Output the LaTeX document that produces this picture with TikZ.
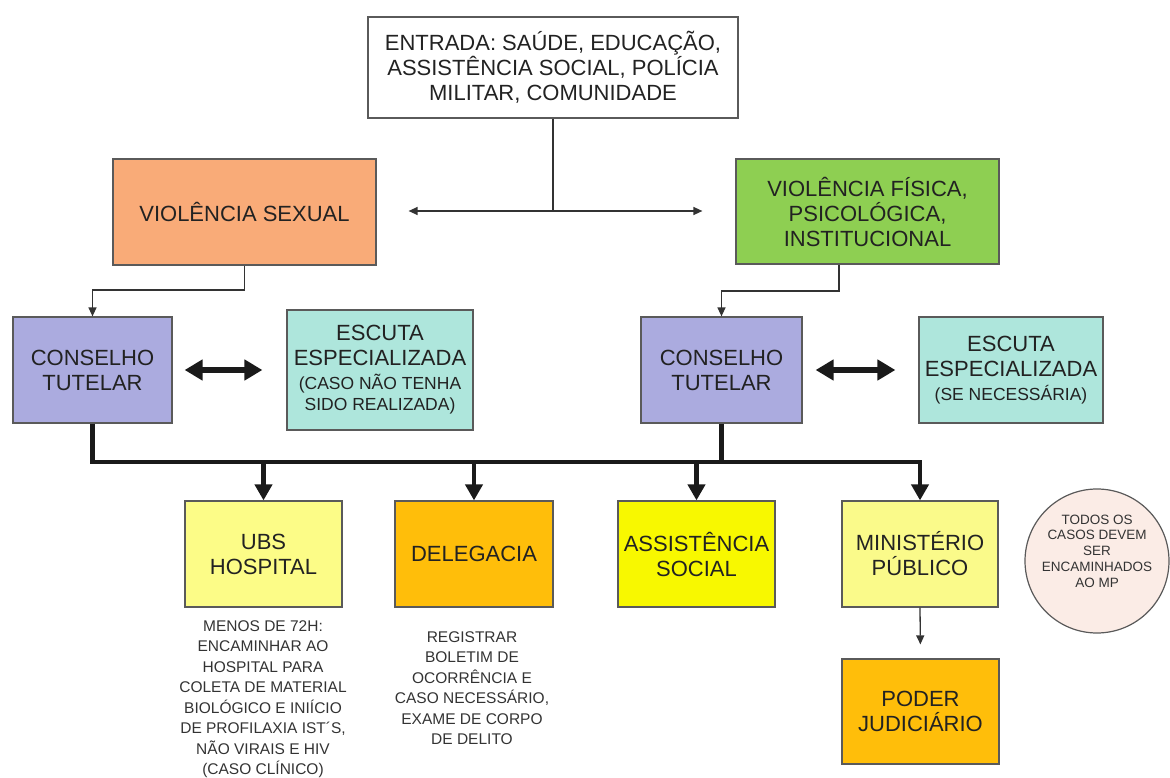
\documentclass[tikz,border=0pt]{standalone}
\usepackage{fontspec}
\setmainfont{Liberation Sans}
\usetikzlibrary{arrows.meta}
\definecolor{bordc}{HTML}{5A5A5A}
\definecolor{txtc}{HTML}{222222}
\definecolor{notec}{HTML}{333333}
\definecolor{linec}{HTML}{333333}
\definecolor{busc}{HTML}{1A1A1A}
\definecolor{sexc}{HTML}{F9AB78}
\definecolor{fisc}{HTML}{8ECF52}
\definecolor{ctc}{HTML}{ABABDF}
\definecolor{escc}{HTML}{AEE6DC}
\definecolor{ubsc}{HTML}{FCFC87}
\definecolor{delc}{HTML}{FFBE0A}
\definecolor{asc}{HTML}{F8F800}
\definecolor{minc}{HTML}{FAFA8A}
\definecolor{circc}{HTML}{FBECE6}
\newcommand\smalltxt{\fontsize{17.5}{21}\selectfont}
\begin{document}
\begin{tikzpicture}[x=1pt,y=-1pt,
  box/.style={draw=bordc, line width=1.2pt, rectangle, align=center, inner sep=0pt,
    text=txtc, font=\fontsize{22}{25}\selectfont},
  thinln/.style={draw=linec, line width=1.3pt},
  thinarr/.style={thinln, -{Triangle[width=8pt,length=9pt]}},
  thindbl/.style={thinln, {Triangle[width=8pt,length=9pt]}-{Triangle[width=8pt,length=9pt]}},
  busln/.style={draw=busc, line width=4.5pt, line join=miter},
  busarr/.style={busln, -{Triangle[width=17pt,length=16pt]}},
  dblarr/.style={draw=busc, line width=6pt, {Triangle[width=20pt,length=18pt]}-{Triangle[width=20pt,length=18pt]}},
  note/.style={align=center, text=notec, font=\fontsize{15.5}{20.5}\selectfont, inner sep=0pt}
]
\useasboundingbox (0,0) rectangle (1170,778);

% top
\node[box, fill=white, minimum width=370pt, minimum height=101pt] (entrada) at (553,67.5)
  {ENTRADA: SAÚDE, EDUCAÇÃO,\\ASSISTÊNCIA SOCIAL, POLÍCIA\\MILITAR, COMUNIDADE};
\node[box, fill=sexc, minimum width=263pt, minimum height=106pt] (sexual) at (244.5,212)
  {VIOLÊNCIA SEXUAL};
\node[box, fill=fisc, minimum width=263pt, minimum height=105pt] (fisica) at (867.5,211.5)
  {VIOLÊNCIA FÍSICA,\\PSICOLÓGICA,\\INSTITUCIONAL};

% middle
\node[box, fill=ctc, minimum width=159pt, minimum height=106pt] (ct1) at (92.5,370)
  {CONSELHO\\TUTELAR};
\node[box, fill=escc, minimum width=186pt, minimum height=120pt] (esc1) at (380,370)
  {ESCUTA\\ESPECIALIZADA\\[-1pt]{\smalltxt (CASO NÃO TENHA}\\[-4pt]{\smalltxt SIDO REALIZADA)}};
\node[box, fill=ctc, minimum width=161pt, minimum height=106pt] (ct2) at (721.5,370)
  {CONSELHO\\TUTELAR};
\node[box, fill=escc, minimum width=184pt, minimum height=106pt] (esc2) at (1011,370)
  {ESCUTA\\ESPECIALIZADA\\[-1pt]{\smalltxt (SE NECESSÁRIA)}};

% bottom
\node[box, fill=ubsc, minimum width=157pt, minimum height=106pt] (ubs) at (263.5,554)
  {UBS\\HOSPITAL};
\node[box, fill=delc, minimum width=158pt, minimum height=106pt] (deleg) at (474,554)
  {DELEGACIA};
\node[box, fill=asc, minimum width=157pt, minimum height=106pt] (assist) at (696.5,554)
  {ASSISTÊNCIA\\SOCIAL};
\node[box, fill=minc, minimum width=156pt, minimum height=106pt] (minist) at (920,554)
  {MINISTÉRIO\\PÚBLICO};
\node[box, fill=delc, minimum width=157pt, minimum height=105pt] (poder) at (920.5,711.5)
  {PODER\\JUDICIÁRIO};

\node[circle, draw=bordc, line width=1.2pt, fill=circc, minimum size=144pt, inner sep=0pt] (todos) at (1097,561) {};
\node[align=center, inner sep=0pt, text=notec, font=\fontsize{13.5}{15.8}\selectfont] (todostxt) at (1097,551)
  {TODOS OS\\CASOS DEVEM\\SER\\ENCAMINHADOS\\AO MP};

\node[note] (ubsnote) at (263,699)
  {MENOS DE 72H:\\ENCAMINHAR AO\\HOSPITAL PARA\\COLETA DE MATERIAL\\BIOLÓGICO E INIÍCIO\\DE PROFILAXIA IST´S,\\NÃO VIRAIS E HIV\\(CASO CLÍNICO)};
\node[note] (delnote) at (472,688)
  {REGISTRAR\\BOLETIM DE\\OCORRÊNCIA E\\CASO NECESSÁRIO,\\EXAME DE CORPO\\DE DELITO};

% connectors: top
\coordinate (hm) at (entrada.south |- 0,211);
\draw[thinln] (entrada.south) -- (hm);
\draw[thinarr, shorten >=32pt] (hm) -- (hm -| sexual.east);
\draw[thinarr, shorten >=33pt] (hm) -- (hm -| fisica.west);

\draw[thinarr] (sexual.south) -- (sexual.south |- 0,290) -| (ct1.north);
\draw[thinarr] (839,0 |- fisica.south) -- (839,291) -| (ct2.north);

% double arrows
\draw[dblarr, shorten <=12pt, shorten >=24pt] (ct1.east) -- (esc1.west);
\draw[dblarr, shorten <=13pt, shorten >=23pt] (ct2.east) -- (esc2.west);

% bus
\draw[busarr] (ct1.south) -- (ct1.south |- 0,462) -- (minist.north |- 0,462) -- (minist.north);
\draw[busln] (ct2.south) -- (ct2.south |- 0,462);
\draw[busarr] (ubs.north |- 0,462) -- (ubs.north);
\draw[busarr] (deleg.north |- 0,462) -- (deleg.north);
\draw[busarr] (assist.north |- 0,462) -- (assist.north);

\draw[thinarr, shorten >=14pt] (minist.south) -- (poder.north);
\end{tikzpicture}
\end{document}
